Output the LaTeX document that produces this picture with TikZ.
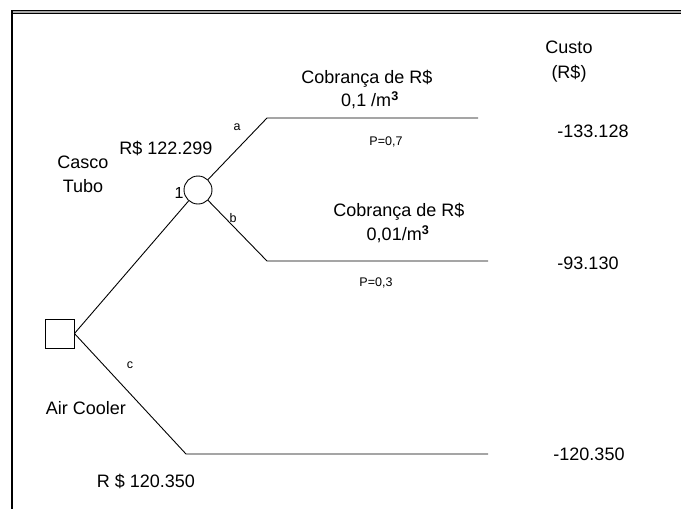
\documentclass[tikz,border=0pt]{standalone}
\usepackage{fontspec}
\setmainfont{Liberation Sans}
\begin{document}
\begin{tikzpicture}[x=1pt,y=-1pt,
  branch/.style={line width=0.9pt},
  big/.style={inner sep=0pt,font=\fontsize{18}{20}\selectfont,text height=13pt,text depth=0pt,anchor=center},
  small/.style={inner sep=0pt,font=\fontsize{12.5}{14}\selectfont,text height=9pt,text depth=0pt,anchor=center},
  decision/.style={draw,line width=0.9pt,minimum size=29pt,inner sep=0pt},
  chance/.style={draw,circle,line width=0.9pt,minimum size=28pt,inner sep=0pt}]
\useasboundingbox (0,0) rectangle (681,509);

% frame: double rule along the top, single rule down the left
\fill[black] (11,10) rectangle (681,14.2);
\fill[gray!70] (11,11.3) rectangle (681,12.9);
\draw[line width=1.8pt] (11.9,10) -- (11.9,509);

% decision and chance nodes
\node[decision] (dec) at (59.5,333.5) {};
\node[chance] (ch) at (198,190) {};

% branch end points
\coordinate (a1) at (267,118);
\coordinate (a2) at (478,118);
\coordinate (b1) at (267,261);
\coordinate (b2) at (488,261);
\coordinate (c1) at (186,454);
\coordinate (c2) at (488,454);

% branches
\draw[branch] (dec.east) -- (ch);
\draw[branch] (ch) -- (a1) -- (a2);
\draw[branch] (ch) -- (b1) -- (b2);
\draw[branch] (dec.east) -- (c1) -- (c2);

% column heading and costs
\node[big] (hd1) at (569,47) {Custo};
\node[big] (hd2) at (569,72) {(R\$)};
\node[big] (v1) at (593,131) {-133.128};
\node[big] (v2) at (588,263) {-93.130};
\node[big] (v3) at (589,454) {-120.350};

% upper branch labels
\node[big] (t1) at (367,77) {Cobrança de R\$};
\node[big] (t1b) at (370,100) {0,1 /m\textsuperscript{\textbf{3}}};
\node[small] (p1) at (386,141) {P=0,7};
\node[small] (la) at (237,126) {a};

% lower chance branch labels
\node[big] (t2) at (399,210) {Cobrança de R\$};
\node[big] (t2b) at (398,234) {0,01/m\textsuperscript{\textbf{3}}};
\node[small] (p2) at (376,282) {P=0,3};
\node[small] (lb) at (233,218) {b};

% chance node labels
\node[big] (r1) at (166,148) {R\$ 122.299};
\node[big,font=\fontsize{16}{18}\selectfont] (n1) at (179,192) {1};
\node[big] (cs1) at (83,162) {Casco};
\node[big] (cs2) at (83,186) {Tubo};

% air cooler branch labels
\node[small] (lc) at (130,364) {c};
\node[big] (ac) at (86,408) {Air Cooler};
\node[big] (r2) at (146,481) {R \$ 120.350};
\end{tikzpicture}
\end{document}
